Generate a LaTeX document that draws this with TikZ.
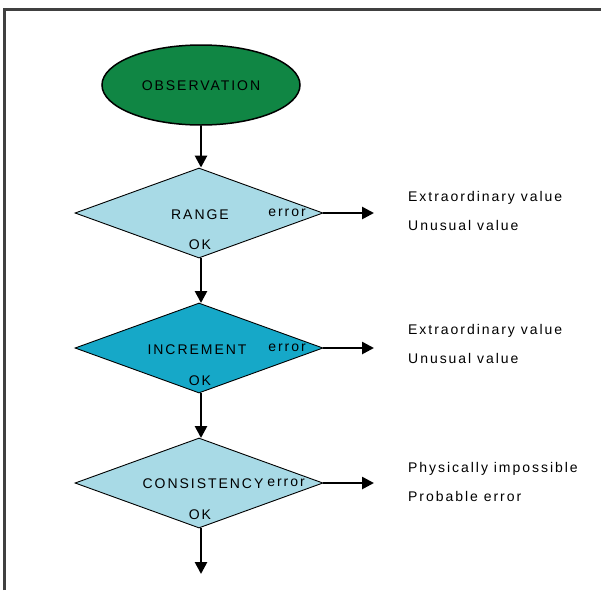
\documentclass[tikz,border=0pt]{standalone}
\usepackage{fontspec}
\setmainfont{Liberation Sans}
\newfontfamily\spacedfont[LetterSpace=14]{Liberation Sans}
\usetikzlibrary{shapes.geometric,arrows.meta}
\definecolor{obsgreen}{RGB}{16,134,68}
\definecolor{lightblue}{RGB}{168,218,230}
\definecolor{tealblue}{RGB}{22,168,200}
\definecolor{framegray}{RGB}{64,64,64}
\begin{document}
\begin{tikzpicture}[x=1pt,y=-1pt,
  every node/.style={font=\spacedfont\fontsize{14}{16}\selectfont},
  lbl/.style={inner sep=0pt},
  side/.style={inner sep=0pt,anchor=west},
  obsnode/.style={ellipse,draw=black,line width=1.5pt,fill=obsgreen,minimum width=198pt,minimum height=80pt,inner sep=0pt},
  check/.style={diamond,draw=black,line width=0.9pt,minimum width=248pt,minimum height=90pt,inner sep=0pt},
  flow/.style={line width=2.6pt,-{Triangle[length=12pt,width=12pt]}}
]
\useasboundingbox (0,0) rectangle (601,590);
\draw[framegray,line width=3pt] (4.5,590) -- (4.5,9.5) -- (601,9.5);

\node[obsnode] (obs) at (201,85) {};
\node[lbl] (obst) at (201,86) {OBSERVATION};

\node[check,fill=lightblue] (d1) at (199,213) {};
\node[check,fill=tealblue] (d2) at (199,348) {};
\node[check,fill=lightblue] (d3) at (199,483) {};

\node[lbl] (t1) at (200,215) {RANGE};
\node[lbl] (e1) at (287,213) {error};
\node[lbl] (k1) at (200,245) {OK};

\node[lbl] (t2) at (197,350) {INCREMENT};
\node[lbl] (e2) at (287,348) {error};
\node[lbl] (k2) at (200,381) {OK};

\node[lbl] (t3) at (203,484) {CONSISTENCY};
\node[lbl] (e3) at (286,483) {error};
\node[lbl] (k3) at (200,515) {OK};

\coordinate (a1) at (374,213);
\coordinate (a2) at (374,348);
\coordinate (a3) at (374,483);
\coordinate (endp) at (201,574);

\draw[flow] (obs.south -| 201,0) -- (d1.north -| 201,0);
\draw[flow] (201,258) -- (201,303);
\draw[flow] (201,393) -- (201,438);
\draw[flow] (201,528) -- (endp);
\draw[flow] (d1.east) -- (a1);
\draw[flow] (d2.east) -- (a2);
\draw[flow] (d3.east) -- (a3);

\node[side] (r1a) at (408,198) {Extraordinary value};
\node[side] (r1b) at (408,225) {Unusual value};
\node[side] (r2a) at (408,331) {Extraordinary value};
\node[side] (r2b) at (408,358) {Unusual value};
\node[side] (r3a) at (408,469) {Physically impossible};
\node[side] (r3b) at (408,496) {Probable error};
\end{tikzpicture}
\end{document}
